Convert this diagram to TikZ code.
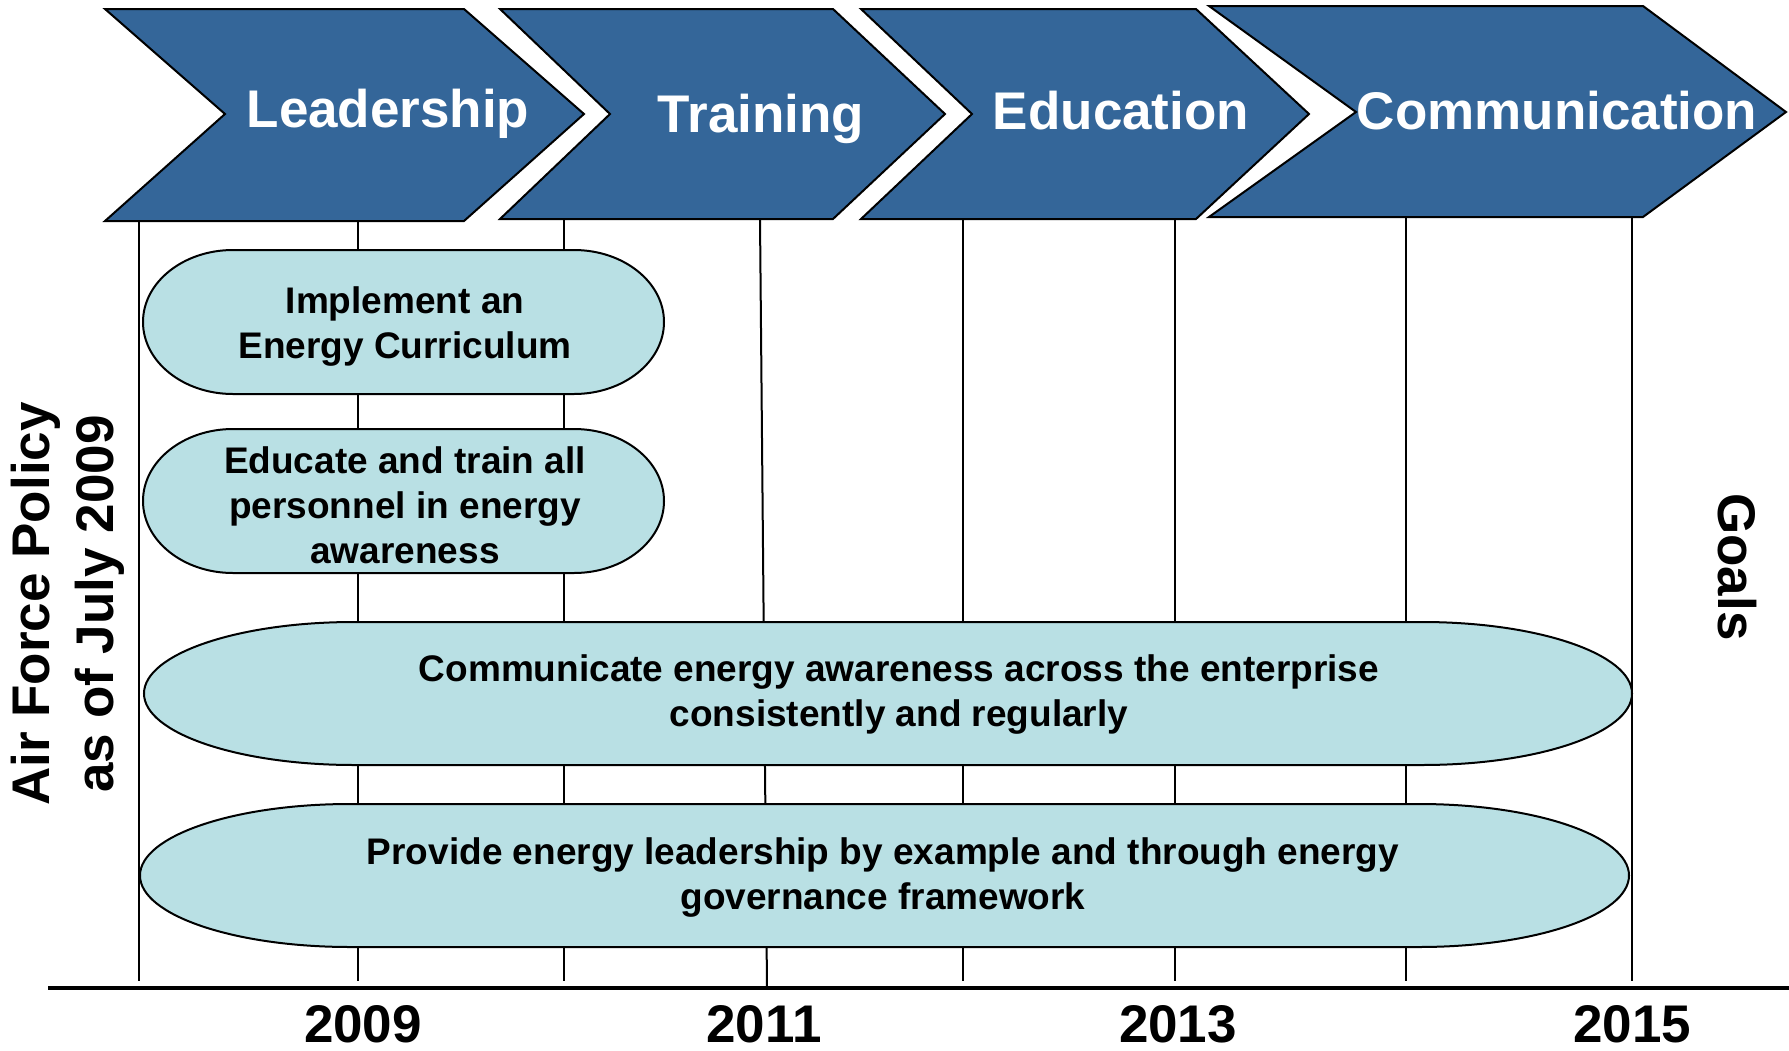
\documentclass[tikz,border=0pt]{standalone}
\usepackage{fontspec}
\setmainfont{Liberation Sans}
\usetikzlibrary{positioning}

\definecolor{chevblue}{RGB}{52,102,153}
\definecolor{pillcyan}{RGB}{185,224,228}

\tikzset{
  chevron/.style={draw=black, line width=1pt, fill=chevblue, line join=miter},
  pill/.style={draw=black, line width=1pt, fill=pillcyan},
  yearline/.style={draw=black, line width=1pt},
  headtxt/.style={text=white, font=\fontsize{26.5}{30}\selectfont\bfseries, inner sep=0.75pt},
  pilltxt/.style={align=center, font=\fontsize{18.5}{22.5}\selectfont\bfseries, inner sep=0.75pt},
  yeartxt/.style={font=\fontsize{26.5}{30}\selectfont\bfseries, inner sep=0.75pt},
}

% pill with elliptic ends: x1,y1,x2,y2,rx,ry
\newcommand{\pillshape}[6]{%
  \draw[pill] (#1+#5,#2) -- (#3-#5,#2)
    arc[start angle=-90, end angle=0, x radius=#5, y radius=#6] -- (#3,#4-#6)
    arc[start angle=0, end angle=90, x radius=#5, y radius=#6] -- (#1+#5,#4)
    arc[start angle=90, end angle=180, x radius=#5, y radius=#6] -- (#1,#2+#6)
    arc[start angle=180, end angle=270, x radius=#5, y radius=#6] -- cycle;}

\begin{document}
\begin{tikzpicture}[x=0.5pt,y=0.5pt,yscale=-1,xscale=1]
\useasboundingbox (0,0) rectangle (1789,1050);

%Shape: Chevron [Leadership]
\draw[chevron] (105,9) -- (464,9) -- (584,114) -- (464,221) -- (105,221) -- (225,114) -- cycle;
%Shape: Chevron [Training]
\draw[chevron] (500,9) -- (833,9) -- (945,114) -- (833,219) -- (500,219) -- (610,114) -- cycle;
%Shape: Chevron [Education]
\draw[chevron] (861,9) -- (1196,9) -- (1309,114) -- (1196,219) -- (861,219) -- (972,114) -- cycle;
%Shape: Chevron [Communication]
\draw[chevron] (1209,6) -- (1643,6) -- (1786,112) -- (1643,217) -- (1209,217) -- (1356,112) -- cycle;

%Straight Lines
\draw[yearline] (139,221) -- (139,981);
\draw[yearline] (358,221) -- (358,981);
\draw[yearline] (564,219) -- (564,981);
\draw[yearline] (760,219) -- (767,988);
\draw[yearline] (963,219) -- (963,981);
\draw[yearline] (1175,219) -- (1175,981);
\draw[yearline] (1406,217) -- (1406,981);
\draw[yearline] (1632,217) -- (1632,981);

%Straight Lines [axis]
\draw[line width=2pt] (48,988) -- (1789,988);

%Shape: Pills
\pillshape{143}{250}{664}{394}{90}{72}
\pillshape{143}{429}{664}{573}{90}{72}
\pillshape{144}{622}{1632}{765}{210}{71.5}
\pillshape{140}{804}{1629}{947}{210}{71.5}

% Text Node
\node[headtxt] (lead) at (388,114) {Leadership};
% Text Node
\node[headtxt] (train) at (761,119) {Training};
% Text Node
\node[headtxt] (educ) at (1121,111) {Education};
% Text Node
\node[headtxt] (comm) at (1557,111) {Communication};

% Text Node
\node[pilltxt] (curric) at (405,327) {Implement an\\Energy Curriculum};
% Text Node
\node[pilltxt] (aware) at (405,505) {Educate and train all\\personnel in energy\\awareness};
% Text Node
\node[pilltxt] (enterp) at (899,695) {Communicate energy awareness across the enterprise\\consistently and regularly};
% Text Node
\node[pilltxt] (govern) at (883,878) {Provide energy leadership by example and through energy\\governance framework};

% Text Node
\node[yeartxt] (y2009) at (363,1024) {2009};
% Text Node
\node[yeartxt] (y2011) at (764,1024) {2011};
% Text Node
\node[yeartxt] (y2013) at (1178,1024) {2013};
% Text Node
\node[yeartxt] (y2015) at (1632,1024) {2015};

% Text Node
\node[yeartxt, rotate=90, align=center, font=\fontsize{26.5}{32}\selectfont\bfseries] (policy) at (68,604) {Air Force Policy\\as of July 2009};
% Text Node
\node[yeartxt, rotate=-90] (goals) at (1737,567) {Goals};

\end{tikzpicture}
\end{document}
